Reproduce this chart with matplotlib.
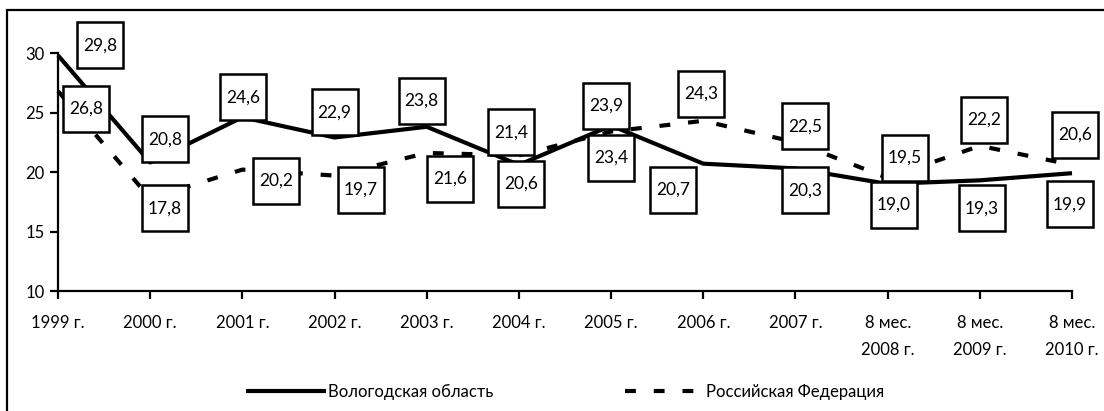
import matplotlib
matplotlib.use("Agg")
import matplotlib.pyplot as plt
from matplotlib.transforms import offset_copy
from matplotlib.patches import Rectangle

plt.rcParams['font.family'] = ['Lato', 'DejaVu Sans']

# data
years = ['1999 г.', '2000 г.', '2001 г.', '2002 г.', '2003 г.', '2004 г.', '2005 г.',
         '2006 г.', '2007 г.', '8 мес.\n2008 г.', '8 мес.\n2009 г.', '8 мес.\n2010 г.']
vologda = [29.8, 20.8, 24.6, 22.9, 23.8, 20.6, 23.9, 20.7, 20.3, 19.0, 19.3, 19.9]
russia = [26.8, 17.8, 20.2, 19.7, 21.6, 21.4, 23.4, 24.3, 22.5, 19.5, 22.2, 20.6]

# label box offsets from the point, in pixels (dx, dy up)
vologda_off = [(42, 10), (15, 23), (1, 20), (0, 25), (-5, 26), (2, -19), (-5, 20),
               (-30, -26), (10, -22), (6, -21), (2, -28), (-2, -31)]
russia_off = [(28, -18), (15, -10), (34, -11), (26, -14), (23, -26), (-8, 23), (0, -26),
              (-2, 27), (10, 16), (17, 20), (4, 26), (3, 30)]

fig = plt.figure(figsize=(11.04, 4.11), dpi=100)
ax = fig.add_axes([58 / 1104, 1 - 291 / 411, (1072 - 58) / 1104, (291 - 53) / 411])

x = list(range(len(years)))
ax.plot(x, russia, color='black', lw=3, linestyle=(0, (2.6, 4.3)), dash_capstyle='butt',
        clip_on=False, zorder=2, label='Российская Федерация')
ax.plot(x, vologda, color='black', lw=3, solid_capstyle='butt', clip_on=False, zorder=3,
        label='Вологодская область')

def fmt(v):
    return ('%.1f' % v).replace('.', ',')

for series, offs in ((vologda, vologda_off), (russia, russia_off)):
    for xi, v, (dx, dy) in zip(x, series, offs):
        tr = offset_copy(ax.transData, fig=fig, x=dx, y=dy, units='dots')
        ax.plot([xi], [v], marker='s', ms=32.5, mfc='white', mec='black', mew=1.8,
                transform=tr, clip_on=False, zorder=5)
        ax.text(xi, v, fmt(v), transform=tr, ha='center', va='center', fontsize=12.5,
                zorder=6, clip_on=False)

ax.set_xlim(0, 11)
ax.set_ylim(10, 30)
ax.set_yticks([10, 15, 20, 25, 30])
ax.set_xticks(x)
ax.set_xticklabels(years, linespacing=1.85, va='top')
for s in ('top', 'right'):
    ax.spines[s].set_visible(False)
for s in ('left', 'bottom'):
    ax.spines[s].set_linewidth(1.6)
ax.tick_params(axis='both', width=1.6, length=5.5, labelsize=12, color='black')
ax.tick_params(axis='x', pad=12)
ax.tick_params(axis='y', pad=4)

handles, labels = ax.get_legend_handles_labels()
fig.legend(handles[::-1], labels[::-1], loc='center', bbox_to_anchor=(0.512, 0.047),
           ncol=2, frameon=False, fontsize=12, handlelength=4.8, handletextpad=0.1,
           columnspacing=7.9)

# outer frame
fig.patches.append(Rectangle((7 / 1104, -0.05), 1.2, 1 - 10 / 411 + 0.05,
                             transform=fig.transFigure, fill=False, lw=1.6,
                             edgecolor='black'))

fig.savefig('out.png', dpi=100)
